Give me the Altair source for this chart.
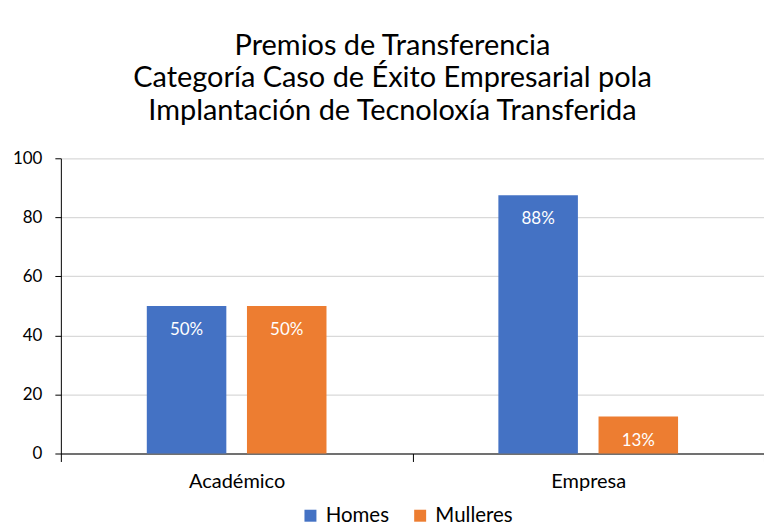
import altair as alt
import pandas as pd

categories = ["Académico", "Empresa"]
series_names = ["Homes", "Mulleres"]
homes = [50, 87.5]
mulleres = [50, 12.5]
homes_labels = ["50%", "88%"]
mulleres_labels = ["50%", "13%"]
y_ticks = [0, 20, 40, 60, 80, 100]
title_lines = ["Premios de Transferencia",
               "Categoría Caso de Éxito Empresarial pola",
               "Implantación de Tecnoloxía Transferida"]
colors = ["#4472C4", "#ED7D31"]

rows = []
for i, c in enumerate(categories):
    rows.append({"cat": c, "serie": "Homes", "value": homes[i], "label": homes_labels[i]})
    rows.append({"cat": c, "serie": "Mulleres", "value": mulleres[i], "label": mulleres_labels[i]})
df = pd.DataFrame(rows)

FONT = "Lato"

x = alt.X("cat:N", sort=categories, title=None,
          scale=alt.Scale(paddingInner=0, paddingOuter=0),
          axis=alt.Axis(tickBand="extent", labelAngle=0, domainColor="black",
                        tickColor="black", tickSize=8, labelFontSize=20,
                        labelPadding=10, labelColor="#000", labelFont=FONT,
                        grid=False, domainWidth=1))
xo = alt.XOffset("serie:N", sort=series_names,
                 scale=alt.Scale(paddingInner=0.206, paddingOuter=0.858))
y = alt.Y("value:Q", title=None, scale=alt.Scale(domain=[0, 100], nice=False),
          axis=alt.Axis(values=y_ticks, domainColor="black", tickColor="black",
                        tickSize=6, labelPadding=13, labelFontSize=17,
                        labelColor="#000", labelFont=FONT, gridColor="#d9d9d9",
                        gridWidth=1.3))
color = alt.Color("serie:N", sort=series_names,
                  scale=alt.Scale(domain=series_names, range=colors),
                  legend=alt.Legend(title=None, orient="none", direction="horizontal",
                                    legendX=240, legendY=348, symbolType="square",
                                    symbolSize=144, symbolStrokeWidth=0,
                                    labelFontSize=20.5, labelFont=FONT, labelColor="#000",
                                    columnPadding=20, labelOffset=5))

base = alt.Chart(df)
bars = base.mark_bar().encode(x=x, xOffset=xo, y=y, color=color)
text = base.mark_text(color="white", fontSize=17, font=FONT, baseline="middle", dy=24).encode(
    x=alt.X("cat:N", sort=categories), xOffset=alt.XOffset("serie:N", sort=series_names),
    y="value:Q", text="label:N")

chart = alt.layer(bars, text).properties(
    width=705, height=296,
    title=alt.TitleParams(title_lines, fontSize=29, font=FONT, fontWeight="normal",
                          color="#000", lineHeight=33, anchor="middle", dx=-20, offset=23),
    autosize=alt.AutoSizeParams(type="none"),
    padding={"left": 53, "top": 150, "right": 0, "bottom": 72},
).configure_view(stroke=None)

chart.save("out.html", embed_options={"renderer": "svg", "actions": False})
